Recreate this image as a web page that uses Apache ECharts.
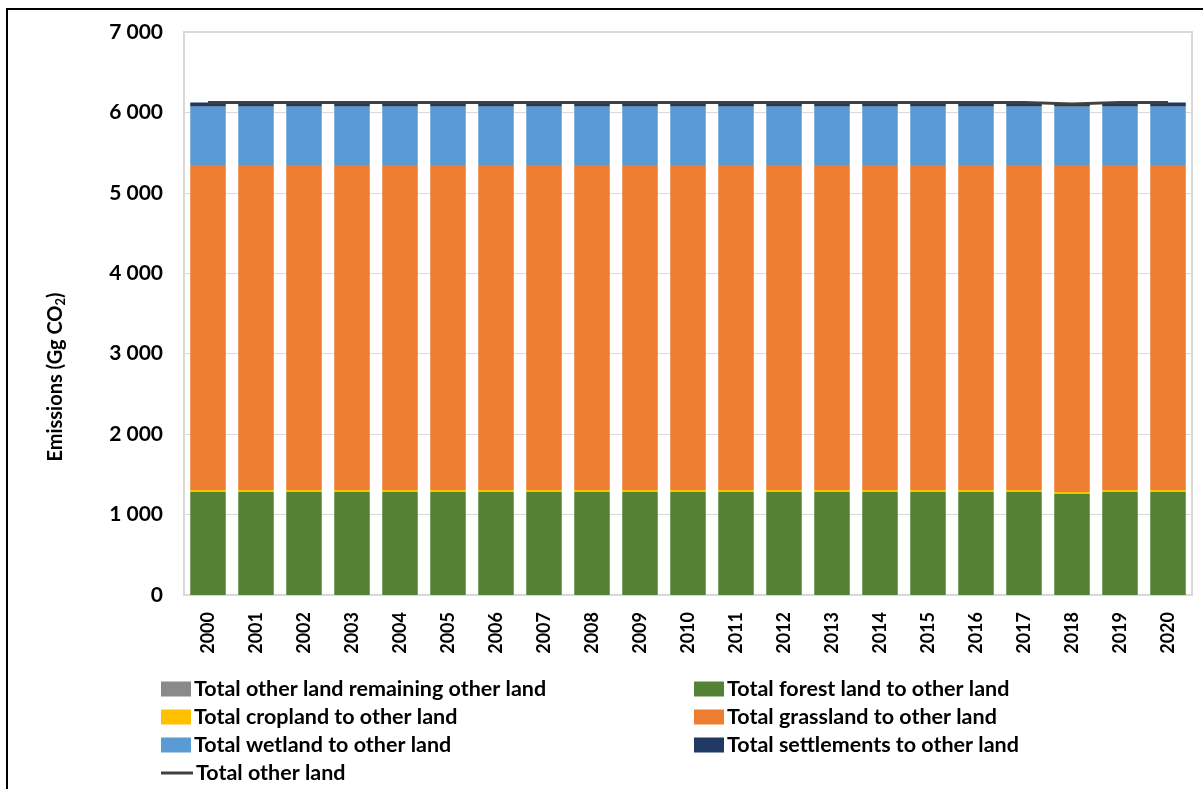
<!DOCTYPE html>
<html>
<head>
<meta charset="utf-8">
<script src="https://cdn.jsdelivr.net/npm/echarts@6/dist/echarts.min.js"></script>
<style>
  html, body { margin: 0; padding: 0; background: #fff; }
  #chart { width: 1203px; height: 789px; }
</style>
</head>
<body>
<div id="chart"></div>
<script>
// Emissions from land converted to / remaining other land, Gg CO2
const years = ['2000','2001','2002','2003','2004','2005','2006','2007','2008','2009','2010',
               '2011','2012','2013','2014','2015','2016','2017','2018','2019','2020'];

const forestToOther      = [1280,1280,1280,1280,1280,1280,1280,1280,1280,1280,1280,1280,1280,1280,1280,1280,1280,1280,1262,1280,1280];
const croplandToOther    = [25,25,25,25,25,25,25,25,25,25,25,25,25,25,25,25,25,25,20,25,25];
const grasslandToOther   = [4040,4040,4040,4040,4040,4040,4040,4040,4040,4040,4040,4040,4040,4040,4040,4040,4040,4040,4063,4040,4040];
const wetlandToOther     = [730,730,730,730,730,730,730,730,730,730,730,730,730,730,730,730,730,730,730,730,730];
const settlementsToOther = [50,50,50,50,50,50,50,50,50,50,50,50,50,50,50,50,50,50,30,50,50];
const otherRemaining     = [0,0,0,0,0,0,0,0,0,0,0,0,0,0,0,0,0,0,0,0,0];
const totalOtherLand     = [6125,6125,6125,6125,6125,6125,6125,6125,6125,6125,6125,6125,6125,6125,6125,6125,6125,6125,6105,6125,6125];

const yTicks = [0,1000,2000,3000,4000,5000,6000,7000];

const FONT = 'Lato, "DejaVu Sans", sans-serif';
const names = {
  remaining: 'Total other land remaining other land',
  forest: 'Total forest land to other land',
  cropland: 'Total cropland to other land',
  grassland: 'Total grassland to other land',
  wetland: 'Total wetland to other land',
  settlements: 'Total settlements to other land',
  total: 'Total other land'
};

function barSeries(name, data, color) {
  return {
    name: name, type: 'bar', stack: 'land', data: data,
    barCategoryGap: '26%',
    itemStyle: { color: color },
    emphasis: { disabled: true }
  };
}

function legendAt(name, left, top, isLine) {
  return {
    data: [{ name: name, icon: 'rect' }], left: left, top: top,
    itemWidth: isLine ? 32 : 30, itemHeight: isLine ? 3 : 15, itemGap: 4,
    selectedMode: false,
    textStyle: { fontFamily: FONT, fontWeight: 'bold', fontSize: 21.5, color: '#000', padding: [0, 0, 0, -2] }
  };
}

const chart = echarts.init(document.getElementById('chart'), null, { renderer: 'canvas' });
chart.setOption({
  animation: false,
  backgroundColor: '#fff',
  graphic: [
    {
      type: 'rect', silent: true,
      shape: { x: 7, y: 9, width: 1220, height: 820 },
      style: { fill: 'none', stroke: '#000', lineWidth: 2 }
    },
    {
      // vertical value-axis title
      type: 'text', silent: true,
      x: 56, y: 377, rotation: Math.PI / 2,
      style: {
        text: '{t|Emissions (Gg CO}{s|2}{t|)}',
        align: 'center', verticalAlign: 'middle',
        rich: {
          t: { fontFamily: FONT, fontWeight: 'bold', fontSize: 20, fill: '#000' },
          s: { fontFamily: FONT, fontWeight: 'bold', fontSize: 13, fill: '#000', padding: [10, 0, 0, 0] }
        }
      }
    }
  ],
  grid: { left: 184, right: 11, top: 32, bottom: 194, show: true, borderColor: '#d9d9d9', borderWidth: 2, containLabel: false },
  legend: [
    legendAt(names.remaining, 156, 673),
    legendAt(names.cropland, 156, 701),
    legendAt(names.wetland, 156, 729),
    legendAt(names.total, 156, 757, true),
    legendAt(names.forest, 689, 673),
    legendAt(names.grassland, 689, 701),
    legendAt(names.settlements, 689, 729)
  ],
  xAxis: {
    type: 'category', data: years,
    axisTick: { show: false },
    axisLine: { lineStyle: { color: '#d9d9d9', width: 2 } },
    axisLabel: { rotate: 90, margin: 17, color: '#000', fontFamily: FONT, fontWeight: 'bold', fontSize: 18 }
  },
  yAxis: {
    type: 'value', min: yTicks[0], max: yTicks[yTicks.length - 1], interval: 1000,
    axisLine: { show: false }, axisTick: { show: false },
    splitLine: { lineStyle: { color: '#d9d9d9', width: 1 } },
    axisLabel: {
      margin: 21, color: '#000', fontFamily: FONT, fontWeight: 'bold', fontSize: 21,
      formatter: v => String(v).replace(/\B(?=(\d{3})+(?!\d))/g, ' ')
    }
  },
  series: [
    barSeries(names.forest, forestToOther, '#548235'),
    barSeries(names.cropland, croplandToOther, '#FFC000'),
    barSeries(names.grassland, grasslandToOther, '#ED7D31'),
    barSeries(names.wetland, wetlandToOther, '#5B9BD5'),
    barSeries(names.settlements, settlementsToOther, '#203864'),
    barSeries(names.remaining, otherRemaining, '#8a8a8a'),
    {
      name: names.total, type: 'line', data: totalOtherLand,
      symbol: 'none', z: 5,
      lineStyle: { color: '#404040', width: 3 },
      itemStyle: { color: '#404040' },
      emphasis: { disabled: true }
    }
  ]
});
</script>
</body>
</html>
